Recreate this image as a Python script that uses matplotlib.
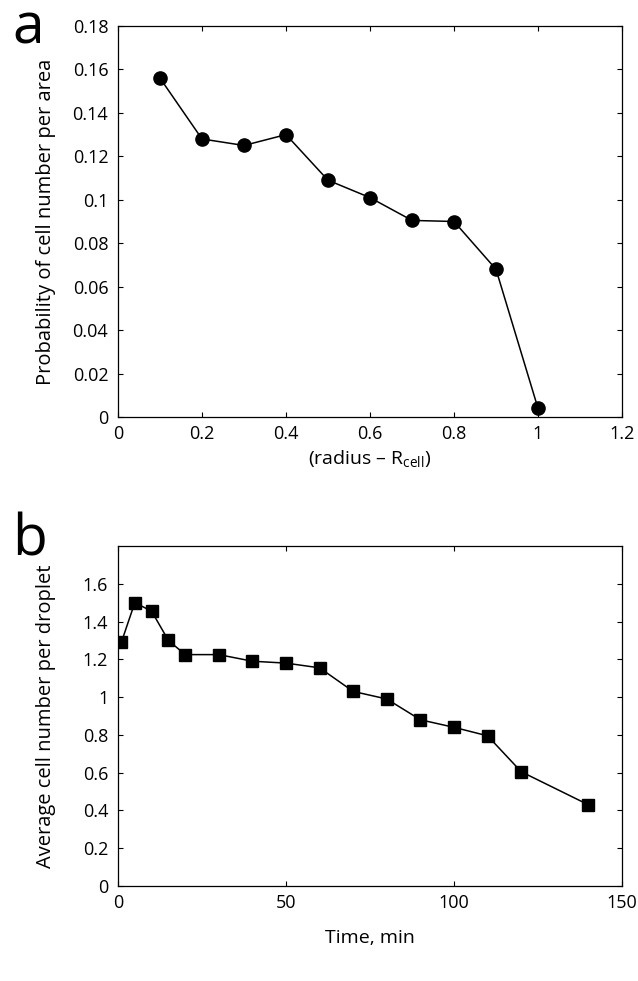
import matplotlib
matplotlib.use("Agg")
import matplotlib.pyplot as plt

plt.rcParams['font.family'] = ['Open Sans', 'DejaVu Sans']
plt.rcParams['mathtext.fontset'] = 'custom'
plt.rcParams['mathtext.rm'] = 'Open Sans'

# Panel a data
radius = [0.1, 0.2, 0.3, 0.4, 0.5, 0.6, 0.7, 0.8, 0.9, 1.0]
prob = [0.156, 0.128, 0.125, 0.130, 0.109, 0.101, 0.0905, 0.090, 0.068, 0.004]
a_xticks = [0, 0.2, 0.4, 0.6, 0.8, 1, 1.2]
a_xticklabels = ["0", "0.2", "0.4", "0.6", "0.8", "1", "1.2"]
a_yticks = [0, 0.02, 0.04, 0.06, 0.08, 0.1, 0.12, 0.14, 0.16, 0.18]
a_yticklabels = ["0", "0.02", "0.04", "0.06", "0.08", "0.1", "0.12", "0.14", "0.16", "0.18"]

# Panel b data
time_min = [1, 5, 10, 15, 20, 30, 40, 50, 60, 70, 80, 90, 100, 110, 120, 140]
avg_cells = [1.29, 1.50, 1.455, 1.30, 1.225, 1.225, 1.19, 1.18, 1.155, 1.03, 0.99, 0.88, 0.84, 0.795, 0.605, 0.43]
b_xticks = [0, 50, 100, 150]
b_xticklabels = ["0", "50", "100", "150"]
b_yticks = [0, 0.2, 0.4, 0.6, 0.8, 1, 1.2, 1.4, 1.6]
b_yticklabels = ["0", "0.2", "0.4", "0.6", "0.8", "1", "1.2", "1.4", "1.6"]

fig = plt.figure(figsize=(6.38, 9.81), dpi=100)

W, H = 638, 981
def box(l, r, t, b):
    return [l / W, (H - b) / H, (r - l) / W, (b - t) / H]

ax1 = fig.add_axes(box(118, 622, 26, 417))
ax2 = fig.add_axes(box(118, 622, 546, 886))

for ax in (ax1, ax2):
    ax.tick_params(direction='in', top=True, right=True, labelsize=13, length=3.5, width=0.8)
    ax.tick_params(axis='y', pad=7)
    ax.tick_params(axis='x', pad=6)
    for s in ax.spines.values():
        s.set_linewidth(0.9)

ax1.plot(radius, prob, '-o', color='black', lw=1.1, markersize=9.5)
ax1.set_xlim(0, 1.2)
ax1.set_ylim(0, 0.18)
ax1.set_xticks(a_xticks)
ax1.set_xticklabels(a_xticklabels)
ax1.set_yticks(a_yticks)
ax1.set_yticklabels(a_yticklabels)
ax1.set_xlabel("(radius \u2013 R$_{\\mathregular{cell}}$)", fontsize=14, labelpad=4)
ax1.set_ylabel("Probability of cell number per area", fontsize=14.5)
ax1.yaxis.set_label_coords((56 - 118) / 504, 0.5)

ax2.plot(time_min, avg_cells, '-s', color='black', lw=1.1, markersize=8)
ax2.set_xlim(0, 150)
ax2.set_ylim(0, 1.8)
ax2.set_xticks(b_xticks)
ax2.set_xticklabels(b_xticklabels)
ax2.set_yticks(b_yticks)
ax2.set_yticklabels(b_yticklabels)
ax2.set_xlabel("Time, min", fontsize=14, labelpad=12)
ax2.set_ylabel("Average cell number per droplet", fontsize=14.5)
ax2.yaxis.set_label_coords((56 - 118) / 504, 0.5)

fig.text(12 / W, 1 - 43 / H, "a", fontsize=41, ha='left', va='baseline')
fig.text(12 / W, 1 - 556 / H, "b", fontsize=41, ha='left', va='baseline')

fig.savefig("out.png", dpi=100)
